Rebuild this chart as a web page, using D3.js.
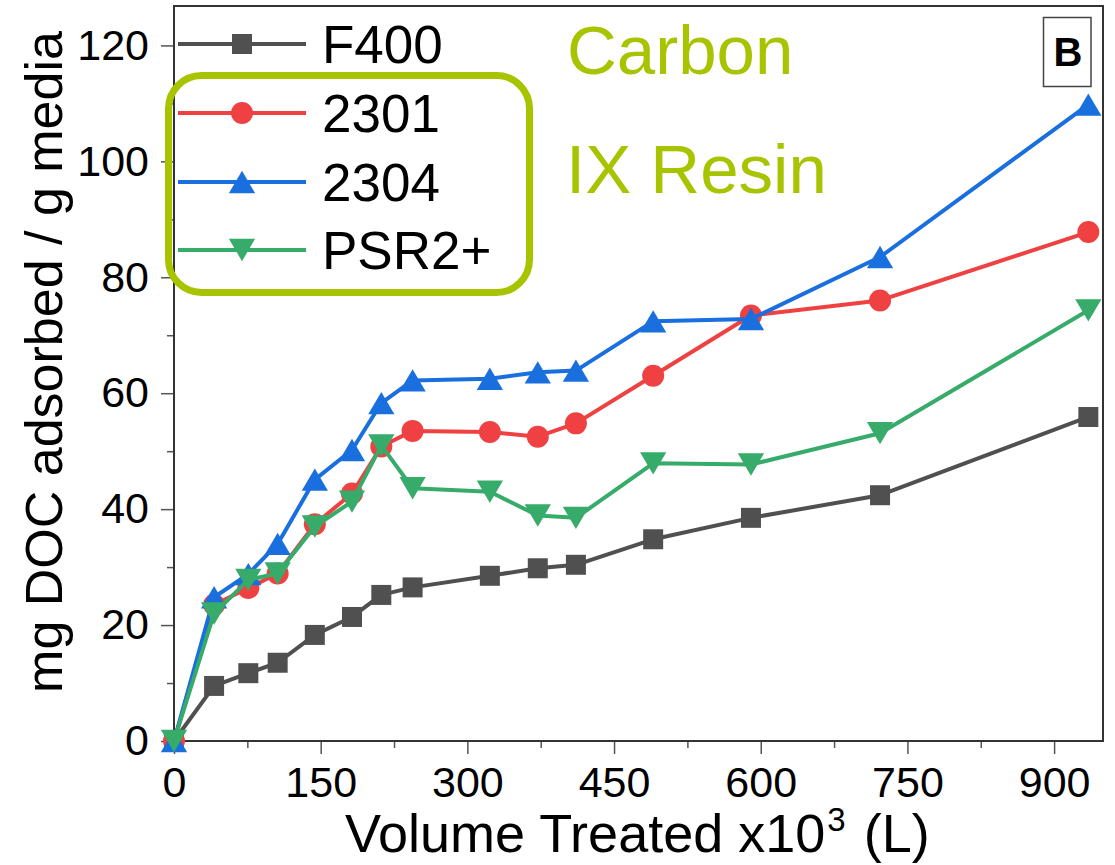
<!DOCTYPE html>
<html lang="en">
<head>
<meta charset="UTF-8">
<title>DOC adsorbed vs volume treated</title>
<script src="https://cdn.jsdelivr.net/npm/d3@7"></script>
<style>
  body { margin: 0; background: #fff; }
  svg { display: block; font-family: "Liberation Sans", Arial, sans-serif; }
</style>
</head>
<body>
<script>
// volume treated (x10^3 L) and mg DOC adsorbed / g media
const volume = [0, 41, 76, 106, 144, 182, 212, 244, 323, 372, 411, 490, 590, 722, 935];
const f400   = [0, 9.5, 11.7, 13.5, 18.3, 21.4, 25.2, 26.5, 28.5, 29.8, 30.4, 34.8, 38.5, 42.4, 55.9];
const r2301  = [0, 23.5, 26.4, 28.9, 37.4, 42.7, 50.8, 53.5, 53.3, 52.5, 54.8, 63.0, 73.4, 76.0, 87.8];
const r2304  = [0, 24.8, 28.8, 34.0, 45.1, 50.2, 58.3, 62.2, 62.5, 63.6, 63.9, 72.4, 72.8, 83.5, 109.8];
const psr2   = [0, 22.0, 27.8, 28.9, 37.0, 41.3, 51.0, 43.6, 43.0, 38.9, 38.5, 47.9, 47.7, 53.1, 74.3];

const seriesNames = ["F400", "2301", "2304", "PSR2+"];
const seriesData  = [f400, r2301, r2304, psr2];
const colors      = ["#505050", "#ef4141", "#1a6fdf", "#37ab6a"];

const xTicks = [0, 150, 300, 450, 600, 750, 900];
const xMinor = [75, 225, 375, 525, 675, 825];
const yTicks = [0, 20, 40, 60, 80, 100, 120];
const yMinor = [10, 30, 50, 70, 90, 110];
const groupLabels = ["Carbon", "IX Resin"];

const width = 1115, height = 865;
const svg = d3.select("body").append("svg").attr("width", width).attr("height", height);

const x = d3.scaleLinear().domain([0, 950]).range([174, 1103]);
const y = d3.scaleLinear().domain([0, 126.8]).range([741, 6]);

// triangle markers centred on their bounding box
const triUp = { draw(ctx, size) { const w = Math.sqrt(size), h = w * 0.85;
  ctx.moveTo(0, -h / 2); ctx.lineTo(w / 2, h / 2); ctx.lineTo(-w / 2, h / 2); ctx.closePath(); } };
const triDown = { draw(ctx, size) { const w = Math.sqrt(size), h = w * 0.85;
  ctx.moveTo(0, h / 2); ctx.lineTo(w / 2, -h / 2); ctx.lineTo(-w / 2, -h / 2); ctx.closePath(); } };
const shapes = [[d3.symbolSquare, 400], [d3.symbolCircle, 380], [triUp, 690], [triDown, 690]];

// axes
function styleAxis(g) {
  g.select(".domain").remove();
  g.selectAll(".tick line").attr("stroke", "#555").attr("stroke-width", 1.5);
  g.selectAll(".tick text").attr("fill", "#000").style("font-size", "43px")
    .style("font-family", '"Liberation Sans", Arial, sans-serif');
}
svg.append("g").attr("transform", "translate(174,0)")
  .call(d3.axisLeft(y).tickValues(yTicks).tickSize(13).tickPadding(12).tickSizeOuter(0)).call(styleAxis);
svg.append("g").attr("transform", "translate(174,0)")
  .call(d3.axisLeft(y).tickValues(yMinor).tickSize(7).tickFormat("").tickSizeOuter(0)).call(styleAxis);
svg.append("g").attr("transform", "translate(0,741)")
  .call(d3.axisBottom(x).tickValues(xTicks).tickSize(13).tickPadding(12).tickSizeOuter(0)).call(styleAxis);
svg.append("g").attr("transform", "translate(0,741)")
  .call(d3.axisBottom(x).tickValues(xMinor).tickSize(7).tickFormat("").tickSizeOuter(0)).call(styleAxis);

// frame
svg.append("rect").attr("x", 174).attr("y", 6).attr("width", 1103 - 174).attr("height", 741 - 6)
  .attr("fill", "none").attr("stroke", "#333").attr("stroke-width", 2);

// axis titles
svg.append("text").attr("transform", "translate(62,362) rotate(-90)")
  .attr("text-anchor", "middle").style("font-size", "52px").text("mg DOC adsorbed / g media");
const xt = svg.append("text").attr("x", 345).attr("y", 852).style("font-size", "54px");
xt.append("tspan").text("Volume Treated x10");
xt.append("tspan").attr("dy", -21).attr("dx", 2).style("font-size", "33px").text("3");
xt.append("tspan").attr("dy", 21).attr("dx", 3).text(" (L)");

// series
const line = d3.line().x((d, i) => x(volume[i])).y(d => y(d));
seriesData.forEach((vals, k) => {
  const g = svg.append("g");
  g.append("path").datum(vals).attr("d", line)
    .attr("fill", "none").attr("stroke", colors[k]).attr("stroke-width", 4).attr("stroke-linejoin", "round");
  g.selectAll("path.m").data(vals).join("path").attr("class", "m")
    .attr("transform", (d, i) => `translate(${x(volume[i])},${y(d)})`)
    .attr("d", d3.symbol(shapes[k][0], shapes[k][1]))
    .attr("fill", colors[k]);
});

// legend
const legendY = [44, 113, 182, 250];
seriesNames.forEach((name, k) => {
  const g = svg.append("g").attr("transform", `translate(0,${legendY[k]})`);
  g.append("line").attr("x1", 178).attr("x2", 306).attr("stroke", colors[k]).attr("stroke-width", 4);
  g.append("path").attr("transform", "translate(242,0)")
    .attr("d", d3.symbol(shapes[k][0], shapes[k][1])).attr("fill", colors[k]);
  g.append("text").attr("x", 322).attr("dy", "0.36em").style("font-size", "53px").text(name);
});
svg.append("rect").attr("x", 168.5).attr("y", 75.5).attr("width", 361).attr("height", 217)
  .attr("rx", 33).attr("fill", "none").attr("stroke", "#a8c400").attr("stroke-width", 7);

// group labels
svg.append("text").attr("x", 567).attr("y", 74).attr("fill", "#a8c400").style("font-size", "69px").text(groupLabels[0]);
svg.append("text").attr("x", 566).attr("y", 193).attr("fill", "#a8c400").style("font-size", "69px").text(groupLabels[1]);

// panel letter
svg.append("rect").attr("x", 1043.5).attr("y", 17.5).attr("width", 47.5).attr("height", 69)
  .attr("fill", "#fff").attr("stroke", "#444").attr("stroke-width", 1.5);
svg.append("text").attr("x", 1068).attr("y", 65.5).attr("text-anchor", "middle")
  .style("font-size", "40px").style("font-weight", "bold").text("B");
</script>
</body>
</html>
